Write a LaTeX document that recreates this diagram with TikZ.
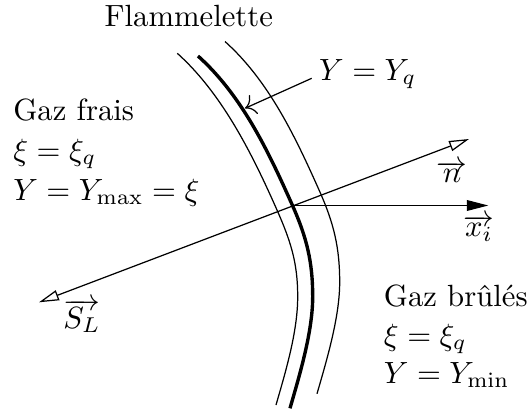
\documentclass[tikz,border=0pt]{standalone}
\usetikzlibrary{arrows.meta}
\begin{document}
\begin{tikzpicture}[x=0.3257pt,y=-0.3257pt,
  thinline/.style={line width=0.4pt},
  flame/.style={line width=1.1pt},
  txt/.style={inner sep=0pt, anchor=base west},
  lbl/.style={inner sep=0pt},
  opentip/.style={{Triangle[open,length=6.5pt,width=3.4pt]}-{Triangle[open,length=6.5pt,width=3.4pt]}},
  filledtip/.style={-{Triangle[length=7pt,width=3.5pt]}},
  pointer/.style={-{To[scale=1.3]}}]
\useasboundingbox (0,0) rectangle (530,410);
% flame front curves
\draw[flame] (198,56) .. controls (242,95.5) and (268.5,151.6) .. (292.5,205.5)
  .. controls (306.7,237.5) and (312.7,261.7) .. (312.7,296.7)
  .. controls (312.7,331.7) and (299.7,374.7) .. (290,408.3);
\draw[thinline] (177.3,53.3) .. controls (221.3,92.8) and (251,151.6) .. (275,205.5)
  .. controls (290.5,240.2) and (297.7,261.7) .. (297.7,296.7)
  .. controls (297.7,331.7) and (285.7,371.4) .. (276,405);
\draw[thinline, shift={(27,-14.5)}] (198,56) .. controls (242,95.5) and (268.5,151.6) .. (292.5,205.5)
  .. controls (306.7,237.5) and (312.7,261.7) .. (312.7,296.7)
  .. controls (312.7,331.7) and (299.7,374.7) .. (290,408.3);
% coordinates
\coordinate (O) at (292.5,205.5);
\coordinate (xiE) at (488.3,205.5);
\coordinate (nE) at (469,139);
\coordinate (sE) at (39,302.3);
\coordinate (yqS) at (311.7,78.3);
\coordinate (yqE) at (245,108.3);
% arrows
\draw[thinline, filledtip] (O) -- (xiE);
\draw[thinline, opentip] (sE) -- (nE);
\draw[thinline, pointer] (yqS) -- (yqE);
% texts
\node[txt] (flam) at (104,26.7) {Flammelette};
\node[txt] (yq) at (318.5,80) {$Y=Y_q$};
\node[txt] (gf) at (12.7,120) {Gaz frais};
\node[txt] (gfxi) at (12.7,160) {$\xi=\xi_q$};
\node[txt] (gfy) at (12.7,200) {$Y=Y_{\max}=\xi$};
\node[txt] (gb) at (383.3,306.5) {Gaz brûlés};
\node[txt] (gbxi) at (383.3,345) {$\xi=\xi_q$};
\node[txt] (gby) at (383.3,383) {$Y=Y_{\min}$};
\node[lbl] (nlab) at (452,172) {$\overrightarrow{n}$};
\node[lbl] (xlab) at (479,228) {$\overrightarrow{x_i}$};
\node[lbl] (slab) at (82,316) {$\overrightarrow{S_L}$};
\end{tikzpicture}
\end{document}
